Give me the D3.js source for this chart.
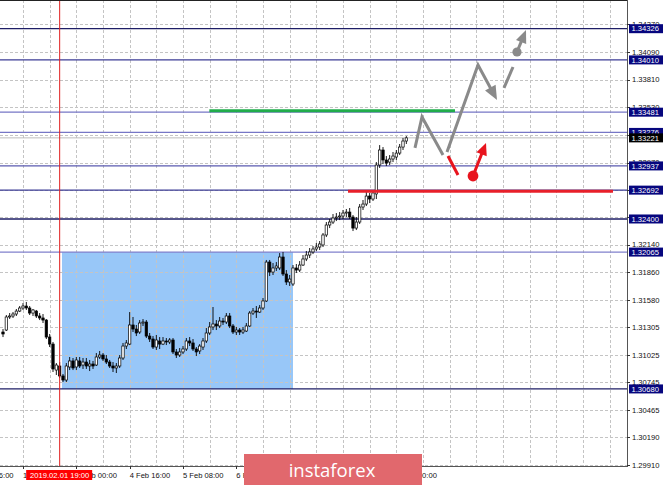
<!DOCTYPE html>
<html><head><meta charset="utf-8">
<script src="https://cdn.jsdelivr.net/npm/d3@7"></script>
<style>body{margin:0;background:#fff}svg{display:block}</style>
</head><body>
<svg id="chart" width="665" height="485"></svg>
<script>
// ---------- DATA ----------
const firstBar = -6; // bar index of first candle (0 = 1 Feb 08:00, H1 bars)
const opens = [1.31256,1.31276,1.31408,1.31418,1.31438,1.31468,1.31499,1.31519,1.31499,1.31448,1.31468,1.31418,1.31398,1.31377,1.31205,1.31134,1.30871,1.30912,1.30811,1.30770,1.30902,1.30963,1.30902,1.30963,1.30922,1.30952,1.30912,1.30932,1.30922,1.31003,1.31023,1.30983,1.30952,1.30912,1.30892,1.30912,1.30993,1.31114,1.31134,1.31327,1.31286,1.31256,1.31347,1.31357,1.31215,1.31185,1.31104,1.31165,1.31134,1.31165,1.31155,1.31175,1.31054,1.31023,1.31054,1.31084,1.31165,1.31145,1.31084,1.31064,1.31104,1.31165,1.31246,1.31307,1.31337,1.31317,1.31367,1.31357,1.31418,1.31317,1.31256,1.31276,1.31256,1.31266,1.31317,1.31448,1.31468,1.31458,1.31499,1.31570,1.31964,1.31863,1.31904,1.31904,1.32015,1.31843,1.31762,1.31742,1.31904,1.31883,1.31934,1.31995,1.32035,1.32066,1.32096,1.32116,1.32137,1.32238,1.32339,1.32369,1.32410,1.32420,1.32430,1.32460,1.32470,1.32420,1.32308,1.32369,1.32521,1.32551,1.32632,1.32602,1.32653,1.32946,1.33098,1.32997,1.32976,1.33007,1.33027,1.33067,1.33128,1.33189];
const highs = [1.31286,1.31428,1.31448,1.31458,1.31489,1.31519,1.31549,1.31560,1.31519,1.31489,1.31479,1.31448,1.31438,1.31387,1.31236,1.31155,1.30942,1.30952,1.30831,1.30942,1.31003,1.30993,1.31003,1.31003,1.30993,1.30993,1.30973,1.30963,1.31043,1.31064,1.31043,1.31023,1.30973,1.30952,1.30942,1.31023,1.31145,1.31175,1.31458,1.31408,1.31327,1.31377,1.31387,1.31377,1.31246,1.31215,1.31226,1.31205,1.31205,1.31195,1.31195,1.31195,1.31084,1.31094,1.31114,1.31195,1.31205,1.31185,1.31104,1.31134,1.31195,1.31296,1.31357,1.31509,1.31377,1.31408,1.31398,1.31448,1.31448,1.31337,1.31307,1.31296,1.31307,1.31347,1.31468,1.31499,1.31519,1.31529,1.31600,1.31985,1.31985,1.31954,1.31964,1.32055,1.32066,1.31883,1.31833,1.31934,1.31944,1.31974,1.32035,1.32076,1.32106,1.32126,1.32157,1.32177,1.32258,1.32369,1.32400,1.32450,1.32460,1.32470,1.32491,1.32501,1.32511,1.32440,1.32420,1.32551,1.32592,1.32673,1.32663,1.32693,1.32976,1.33148,1.33128,1.33037,1.33047,1.33078,1.33098,1.33159,1.33220,1.33239];
const lows = [1.31205,1.31266,1.31388,1.31398,1.31418,1.31458,1.31479,1.31479,1.31428,1.31418,1.31398,1.31377,1.31347,1.31185,1.31104,1.30851,1.30821,1.30790,1.30750,1.30750,1.30871,1.30871,1.30871,1.30892,1.30882,1.30882,1.30861,1.30882,1.30912,1.30983,1.30963,1.30932,1.30892,1.30851,1.30841,1.30892,1.30973,1.31084,1.31124,1.31256,1.31215,1.31236,1.31317,1.31195,1.31155,1.31084,1.31074,1.31084,1.31124,1.31124,1.31134,1.31033,1.30993,1.31003,1.31033,1.31064,1.31114,1.31064,1.31013,1.31033,1.31074,1.31145,1.31226,1.31276,1.31276,1.31296,1.31327,1.31337,1.31296,1.31236,1.31226,1.31226,1.31236,1.31256,1.31307,1.31428,1.31398,1.31448,1.31479,1.31560,1.31823,1.31833,1.31874,1.31883,1.31823,1.31732,1.31722,1.31722,1.31853,1.31863,1.31924,1.31974,1.32005,1.32045,1.32076,1.32086,1.32116,1.32217,1.32308,1.32349,1.32379,1.32389,1.32400,1.32420,1.32400,1.32278,1.32288,1.32349,1.32491,1.32531,1.32561,1.32582,1.32602,1.32916,1.32956,1.32936,1.32946,1.32976,1.32997,1.33047,1.33098,1.33159];
const closes = [1.31236,1.31408,1.31418,1.31438,1.31468,1.31499,1.31519,1.31499,1.31448,1.31479,1.31418,1.31398,1.31377,1.31205,1.31134,1.30882,1.30922,1.30811,1.30770,1.30912,1.30963,1.30892,1.30973,1.30912,1.30952,1.30912,1.30932,1.30912,1.31003,1.31023,1.30983,1.30952,1.30912,1.30892,1.30912,1.30993,1.31114,1.31145,1.31327,1.31286,1.31246,1.31347,1.31357,1.31215,1.31185,1.31104,1.31175,1.31134,1.31165,1.31155,1.31175,1.31054,1.31023,1.31054,1.31084,1.31165,1.31145,1.31084,1.31054,1.31114,1.31165,1.31246,1.31307,1.31337,1.31317,1.31367,1.31357,1.31418,1.31317,1.31256,1.31276,1.31256,1.31276,1.31317,1.31448,1.31468,1.31458,1.31499,1.31570,1.31964,1.31863,1.31904,1.31924,1.32015,1.31843,1.31762,1.31792,1.31904,1.31883,1.31934,1.31995,1.32035,1.32066,1.32096,1.32116,1.32147,1.32238,1.32339,1.32369,1.32410,1.32420,1.32430,1.32460,1.32470,1.32420,1.32308,1.32369,1.32521,1.32551,1.32632,1.32602,1.32663,1.32946,1.33098,1.32997,1.32966,1.33007,1.33037,1.33067,1.33128,1.33189,1.33221];

const priceTicks = [1.29910,1.30190,1.30465,1.30745,1.31025,1.31305,1.31580,1.31860,1.32140,1.32415,1.32695,1.32970,1.33250,1.33530,1.33810,1.34090,1.34370];
const timeTickBars = [-16,0,16,32,48,64,80,96,112];
const timeTickLabels = ["31 Jan 16:00","1 Feb 08:00","4 Feb 00:00","4 Feb 16:00","5 Feb 08:00","6 Feb 00:00","6 Feb 16:00","7 Feb 08:00","8 Feb 00:00"];

const levels = [1.34326,1.34010,1.33481,1.33276,1.32937,1.32692,1.32400,1.32065,1.30680];
const currentPrice = 1.33221;

const markerBar = 11;
const markerLabel = "2019.02.01 19:00";

const zoneBars = [11.7, 81];
const zonePrices = [1.32065, 1.30680];

const greenBars = [55.9, 129.6]; const greenPrice = 1.33495;
const redBars = [97.5, 177]; const redPrice = 1.32680;

// forecast paths: [bar, price]
const grayPath1 = [[117.6,1.33119],[119.7,1.33432],[126.0,1.33048]];
const grayPath2 = [[127.2,1.33078],[136.5,1.33959],[142.2,1.33604]];
const grayDash = [[144.3,1.33726],[147.0,1.33938]];
const grayDot = [148.2,1.34090]; const grayTip = [150.9,1.34313];
const redPath = [[127.5,1.33038],[130.5,1.32845]];
const redDot = [135.0,1.32835]; const redTip = [138.9,1.33169];

const logoText = "instaforex";

// ---------- DRAW ----------
const svg = d3.select("#chart");
const W = 665, H = 485, plotR = 627, plotB = 466;
const x = d3.scaleLinear().domain([0,16]).range([23, 23+160/3]);
const y = d3.scaleLinear().domain([1.29910,1.34090]).range([465,52]);
const font = "'Liberation Sans', Arial, sans-serif";

svg.append("rect").attr("width",W).attr("height",H).attr("fill","#fff");
const defs = svg.append("defs");
defs.append("clipPath").attr("id","plot").append("rect").attr("x",0).attr("y",0).attr("width",plotR).attr("height",plotB);
const plot = svg.append("g").attr("clip-path","url(#plot)");

// zone
plot.append("rect")
  .attr("x",x(zoneBars[0])).attr("width",x(zoneBars[1])-x(zoneBars[0]))
  .attr("y",y(zonePrices[0])).attr("height",y(zonePrices[1])-y(zonePrices[0]))
  .attr("fill","#98c7f8");

// grid
const gridBars = d3.range(0, 190, 8);
plot.selectAll(".vg").data(gridBars).join("line")
  .attr("x1",d=>Math.round(x(d))+0.5).attr("x2",d=>Math.round(x(d))+0.5)
  .attr("y1",0).attr("y2",plotB)
  .attr("stroke","#c4c4c4").attr("stroke-width",1).attr("stroke-dasharray","3,2");
plot.selectAll(".hg").data(priceTicks).join("line")
  .attr("x1",0).attr("x2",plotR)
  .attr("y1",d=>Math.round(y(d))+0.5).attr("y2",d=>Math.round(y(d))+0.5)
  .attr("stroke","#c4c4c4").attr("stroke-width",1).attr("stroke-dasharray","3,2");

// level lines
const levelColor = ["#1e1e66","#3c3c96","#7676c6","#7676c6","#5a5ab0","#3c3c96","#1e1e66","#8080cc","#1e1e66"];
plot.selectAll(".lv").data(levels).join("line")
  .attr("x1",0).attr("x2",plotR)
  .attr("y1",d=>y(d)).attr("y2",d=>y(d))
  .attr("stroke",(d,i)=>levelColor[i]).attr("stroke-width",1.3);
plot.append("line").attr("x1",0).attr("x2",plotR).attr("y1",y(currentPrice)).attr("y2",y(currentPrice))
  .attr("stroke","#bdbdbd").attr("stroke-width",1);

// candles
const bars = opens.map((o,i)=>({b:firstBar+i,o,h:highs[i],l:lows[i],c:closes[i]}));
const cg = plot.append("g");
cg.selectAll(".wick").data(bars).join("line")
  .attr("x1",d=>x(d.b)).attr("x2",d=>x(d.b))
  .attr("y1",d=>y(d.h)).attr("y2",d=>y(d.l))
  .attr("stroke","#000").attr("stroke-width",0.9);
const bw = 2.4;
cg.selectAll(".body").data(bars).join("rect")
  .attr("x",d=>x(d.b)-bw/2).attr("width",bw)
  .attr("y",d=>y(Math.max(d.o,d.c)))
  .attr("height",d=>Math.max(0.8,Math.abs(y(d.o)-y(d.c))))
  .attr("fill",d=>d.c>=d.o?"#fff":"#000")
  .attr("stroke","#000").attr("stroke-width",0.7);

// green & red horizontal levels
plot.append("line").attr("x1",x(greenBars[0])).attr("x2",x(greenBars[1]))
  .attr("y1",y(greenPrice)).attr("y2",y(greenPrice)).attr("stroke","#21ad4b").attr("stroke-width",3);
plot.append("line").attr("x1",x(redBars[0])).attr("x2",x(redBars[1]))
  .attr("y1",y(redPrice)).attr("y2",y(redPrice)).attr("stroke","#e8202a").attr("stroke-width",3);

// vertical marker line
plot.append("line").attr("x1",x(markerBar)).attr("x2",x(markerBar)).attr("y1",0).attr("y2",plotB)
  .attr("stroke","#e02020").attr("stroke-width",1);

// forecast drawings
const pt = d=>[x(d[0]),y(d[1])];
const line = d3.line();
function arrowHead(g, from, tip, len, wid, color){
  const dx=tip[0]-from[0], dy=tip[1]-from[1], L=Math.hypot(dx,dy);
  const ux=dx/L, uy=dy/L, bx=tip[0]-ux*len, by=tip[1]-uy*len;
  g.append("polygon").attr("points",[[tip[0],tip[1]],[bx-uy*wid/2,by+ux*wid/2],[bx+uy*wid/2,by-ux*wid/2]].map(p=>p.join(",")).join(" "))
    .attr("fill",color);
  return [bx+ux*2,by+uy*2];
}
const gray = "#8a8a8a", red = "#e8141e";
const fg = plot.append("g");
fg.append("path").attr("d",line(grayPath1.map(pt))).attr("fill","none").attr("stroke",gray).attr("stroke-width",3).attr("stroke-linejoin","miter");
{
  const p = grayPath2.map(pt);
  const base = arrowHead(fg, p[1], p[2], 14, 12, gray);
  fg.append("path").attr("d",line([p[0],p[1],base])).attr("fill","none").attr("stroke",gray).attr("stroke-width",3);
}
fg.append("path").attr("d",line(grayDash.map(pt))).attr("stroke",gray).attr("stroke-width",3);
{
  const d = pt(grayDot), t = pt(grayTip);
  const base = arrowHead(fg, d, t, 13, 11, gray);
  fg.append("line").attr("x1",d[0]).attr("y1",d[1]).attr("x2",base[0]).attr("y2",base[1]).attr("stroke",gray).attr("stroke-width",3);
  fg.append("circle").attr("cx",d[0]).attr("cy",d[1]).attr("r",4.6).attr("fill",gray);
}
fg.append("path").attr("d",line(redPath.map(pt))).attr("stroke",red).attr("stroke-width",3);
{
  const d = pt(redDot), t = pt(redTip);
  const base = arrowHead(fg, d, t, 12, 11, red);
  fg.append("line").attr("x1",d[0]).attr("y1",d[1]).attr("x2",base[0]).attr("y2",base[1]).attr("stroke",red).attr("stroke-width",3);
  fg.append("circle").attr("cx",d[0]).attr("cy",d[1]).attr("r",5.4).attr("fill",red);
}

// frame
svg.append("line").attr("x1",0).attr("x2",plotR).attr("y1",0.5).attr("y2",0.5).attr("stroke","#222").attr("stroke-width",1.2);
svg.append("line").attr("x1",plotR+0.5).attr("x2",plotR+0.5).attr("y1",0).attr("y2",plotB+0.5).attr("stroke","#555").attr("stroke-width",1);
svg.append("line").attr("x1",0).attr("x2",plotR+1).attr("y1",plotB+0.5).attr("y2",plotB+0.5).attr("stroke","#555").attr("stroke-width",1);

// right axis ticks + labels
const ra = svg.append("g");
ra.selectAll(".rt").data(priceTicks).join("line")
  .attr("x1",plotR).attr("x2",plotR+3).attr("y1",d=>Math.round(y(d))+0.5).attr("y2",d=>Math.round(y(d))+0.5)
  .attr("stroke","#333");
ra.selectAll(".rl").data(priceTicks).join("text")
  .attr("x",632).attr("y",d=>y(d)+2.7).text(d=>d.toFixed(5))
  .attr("font-family",font).attr("font-size",7.6).attr("fill","#111");

// level labels
const levelBoxes = levels.map((v,i)=>({v,bg:"#06067e"})).concat([{v:currentPrice,bg:"#000"}]);
const lb = ra.selectAll(".lb").data(levelBoxes).join("g");
lb.append("rect").attr("x",629).attr("width",34).attr("y",d=>y(d.v)-4.5).attr("height",9).attr("fill",d=>d.bg);
lb.append("text").attr("x",631.5).attr("y",d=>y(d.v)+2.8).text(d=>d.v.toFixed(5))
  .attr("font-family",font).attr("font-size",7.6).attr("fill","#fff");

// bottom axis
const ba = svg.append("g");
ba.selectAll(".bt").data(timeTickBars).join("line")
  .attr("x1",d=>Math.round(x(d))+0.5).attr("x2",d=>Math.round(x(d))+0.5).attr("y1",plotB).attr("y2",plotB+3).attr("stroke","#333");
ba.selectAll(".bl").data(timeTickBars).join("text")
  .attr("x",d=>x(d)).attr("y",477.5).text((d,i)=>timeTickLabels[i])
  .attr("font-family",font).attr("font-size",7.6).attr("fill","#111");
// marker label
{
  const tw = 66, cx = x(markerBar);
  ba.append("rect").attr("x",cx-tw/2-0.5).attr("y",470).attr("width",tw).attr("height",10).attr("fill","#ff0000");
  ba.append("text").attr("x",cx).attr("y",477.8).attr("text-anchor","middle").text(markerLabel)
    .attr("font-family",font).attr("font-size",7.6).attr("fill","#fff");
}

// logo
svg.append("rect").attr("x",244).attr("y",454).attr("width",178).attr("height",31).attr("fill","#e1686d");
svg.append("text").attr("x",332).attr("y",477).attr("text-anchor","middle").text(logoText)
  .attr("font-family","'Open Sans', Roboto, sans-serif").attr("font-size",18.5).attr("fill","#fff");
</script>
</body></html>
